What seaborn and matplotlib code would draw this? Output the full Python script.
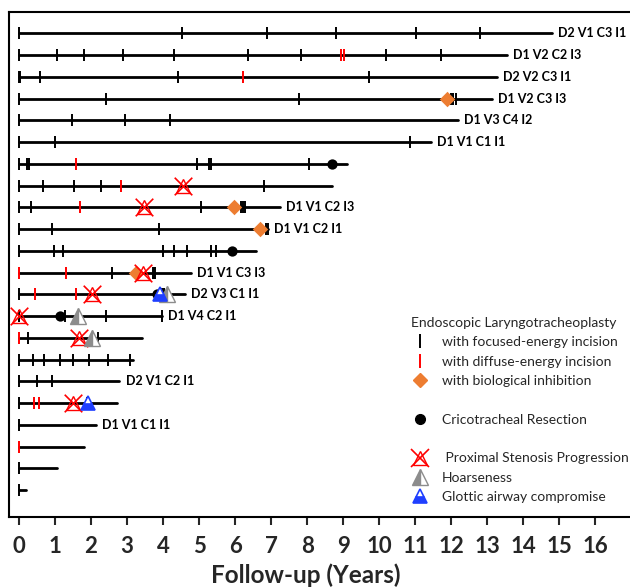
import numpy as np
import pandas as pd
import matplotlib
matplotlib.use("Agg")
import matplotlib.pyplot as plt
from matplotlib.lines import Line2D
import seaborn as sns

# ---------------- data ----------------
rows = list(range(1, 23))
follow_up_end = [14.79, 13.54, 13.26, 13.12, 12.18, 11.44, 9.10, 8.70, 7.25, 6.92, 6.58,
                 4.77, 4.61, 3.96, 3.43, 3.17, 2.79, 2.71, 2.14, 1.81, 1.05, 0.20]
row_labels = ["D2 V1 C3 I1", "D1 V2 C2 I3", "D2 V2 C3 I1", "D1 V2 C3 I3", "D1 V3 C4 I2",
              "D1 V1 C1 I1", "", "", "D1 V1 C2 I3", "D1 V1 C2 I1", "", "D1 V1 C3 I3",
              "D2 V3 C1 I1", "D1 V4 C2 I1", "", "", "D2 V1 C2 I1", "", "D1 V1 C1 I1",
              "", "", ""]
focused_incision = [
    [0, 4.52, 6.89, 8.80, 11.03, 12.81],
    [0, 1.05, 1.81, 2.88, 4.30, 6.36, 7.84, 10.18, 11.72],
    [0, 0.04, 0.58, 4.42, 9.73],
    [0, 2.41, 7.77, 12.00, 12.06, 12.12],
    [0, 1.48, 2.94, 4.18],
    [0, 1.01, 10.85],
    [0, 0.23, 0.28, 4.94, 5.28, 5.32, 8.05],
    [0, 0.68, 1.53, 2.27, 6.81],
    [0, 0.34, 5.06, 6.16, 6.22, 6.27],
    [0, 0.93, 3.90, 6.86, 6.92],
    [0, 0.97, 1.22, 3.99, 4.31, 4.66, 5.33, 5.47],
    [2.58, 3.71, 3.74, 3.77],
    [0, 3.98, 4.02],
    [0, 1.28, 2.42, 3.96],
    [0.26, 2.19],
    [0, 0.40, 0.70, 1.14, 1.51, 1.95, 2.48, 3.08],
    [0, 0.51, 0.93],
    [0, 1.90],
    [0],
    [],
    [0],
    [0],
]
diffuse_incision = [
    [], [8.94, 9.01], [6.23], [], [], [], [1.59], [2.82], [1.70], [], [],
    [0, 1.31], [0.45, 1.58], [], [0], [], [], [0.42, 0.56], [], [0], [], [],
]
biological_inhibition = [
    [], [], [], [11.87], [], [], [], [], [5.98], [6.69], [],
    [3.24], [], [], [], [], [], [], [], [], [], [],
]
cricotracheal_resection = [
    [], [], [], [], [], [], [8.70], [], [], [], [5.92],
    [], [3.84], [1.14], [], [], [], [], [], [], [], [],
]
stenosis_progression = [
    [], [], [], [], [], [], [], [4.55], [3.47], [], [],
    [3.45], [2.04], [0.0], [1.67], [], [], [1.51], [], [], [], [],
]
hoarseness = [
    [], [], [], [], [], [], [], [], [], [], [],
    [], [4.10], [1.65], [2.02], [], [], [], [], [], [], [],
]
glottic_compromise = [
    [], [], [], [], [], [], [], [], [], [], [],
    [], [3.93], [], [], [], [], [1.93], [], [], [], [],
]
x_ticks = list(range(0, 17))


def long_form(events):
    return pd.DataFrame([(t, r) for r, ts in zip(rows, events) for t in ts],
                        columns=["t", "row"])


# ---------------- figure ----------------
sns.set_style("white")
plt.rcParams["font.family"] = ["Lato", "DejaVu Sans"]

W, H = 630, 588
fig = plt.figure(figsize=(W / 100, H / 100), dpi=100)
left_px, right_px, top_px, bottom_px = 9, 640, 12, 517
ax = fig.add_axes([left_px / W, 1 - bottom_px / H,
                   (right_px - left_px) / W, (bottom_px - top_px) / H])

x0_px, px_per_year = 18.9, 36.03
ax.set_xlim((left_px - x0_px) / px_per_year, (right_px - x0_px) / px_per_year)
ax.set_ylim(23.24, 0.02)

# swim lanes
lanes = pd.DataFrame({"row": rows * 2,
                      "t": [0.0] * len(rows) + follow_up_end})
sns.lineplot(data=lanes, x="t", y="row", units="row", estimator=None,
             color="black", lw=2.0, ax=ax, sort=True, orient="y", zorder=2)

tick_s = 8.8 ** 2
foc = long_form(focused_incision)
sns.scatterplot(data=foc, x="t", y="row", marker="|", color="black",
                s=tick_s, linewidth=1.4, ax=ax, zorder=3)
dif = long_form(diffuse_incision)
sns.scatterplot(data=dif, x="t", y="row", marker="|", color="#FF0000",
                s=tick_s, linewidth=1.4, ax=ax, zorder=3)

bio = long_form(biological_inhibition)
sns.scatterplot(data=bio, x="t", y="row", marker="D", color="#ED7D31",
                s=62, linewidth=0, ax=ax, zorder=4)
ctr = long_form(cricotracheal_resection)
sns.scatterplot(data=ctr, x="t", y="row", marker="o", color="black",
                s=55, linewidth=0, ax=ax, zorder=4)

sten = long_form(stenosis_progression)
sns.scatterplot(data=sten, x="t", y="row", marker="x", color="#FF0000",
                s=160, linewidth=1.2, ax=ax, zorder=5)
ax.plot(sten["t"], sten["row"], ls="none", marker="^", ms=10, mfc="none",
        mec="#FF0000", mew=1.0, zorder=5)

hoa = long_form(hoarseness)
ax.plot(hoa["t"], hoa["row"], ls="none", marker="^", ms=11, mec="#8C8C8C",
        mfc="#8C8C8C", fillstyle="left", markerfacecoloralt="white", mew=1.0, zorder=6)
glo = long_form(glottic_compromise)
ax.plot(glo["t"], glo["row"], ls="none", marker="^", ms=10, mec="#1F3FFF",
        mfc="#1F3FFF", fillstyle="bottom", markerfacecoloralt="white", mew=1.2, zorder=6)

# row labels
for r, end, lab in zip(rows, follow_up_end, row_labels):
    if lab:
        extra = max([end] + focused_incision[r - 1])
        ax.text(extra + 0.17, r, lab, ha="left", va="center", fontsize=9,
                fontweight="bold", color="black")

# axes styling
ax.set_yticks([])
ax.set_ylabel("")
ax.set_xticks(x_ticks)
ax.set_xticklabels([str(v) for v in x_ticks], fontsize=16, fontweight="bold")
ax.tick_params(axis="x", direction="out", length=6, width=1.5, pad=8, bottom=True)
for sp in ax.spines.values():
    sp.set_visible(True)
    sp.set_color("black")
    sp.set_linewidth(1.5)
ax.set_xlabel("Follow-up (Years)", fontsize=17.5, fontweight="bold")
ax.xaxis.set_label_coords((306 - left_px) / (right_px - left_px),
                          -(575 - bottom_px) / (bottom_px - top_px))
ax.xaxis.label.set_va("center")
ax.grid(False)

# legend
blank = Line2D([], [], ls="none", marker="")
handles = [
    Line2D([], [], ls="none", marker="|", color="black", ms=10, mew=1.4),
    Line2D([], [], ls="none", marker="|", color="#FF0000", ms=10, mew=1.4),
    Line2D([], [], ls="none", marker="D", color="#ED7D31", ms=7.5),
    blank,
    Line2D([], [], ls="none", marker="o", color="black", ms=7),
    blank,
    (Line2D([], [], ls="none", marker="x", color="#FF0000", ms=12.5, mew=1.2),
     Line2D([], [], ls="none", marker="^", ms=10, mfc="none", mec="#FF0000", mew=1.0)),
    Line2D([], [], ls="none", marker="^", ms=11, mec="#8C8C8C", mfc="#8C8C8C",
           fillstyle="left", markerfacecoloralt="white"),
    Line2D([], [], ls="none", marker="^", ms=10, mec="#1F3FFF", mfc="#1F3FFF",
           fillstyle="bottom", markerfacecoloralt="white", mew=1.2),
]
labels = ["with focused-energy incision", "with diffuse-energy incision",
          "with biological inhibition", "", "Cricotracheal Resection", "",
          " Proximal Stenosis Progression", "Hoarseness", "Glottic airway compromise"]
leg = ax.legend(handles, labels, title="Endoscopic Laryngotracheoplasty",
                loc="upper left", bbox_to_anchor=((404 - left_px) / (right_px - left_px),
                                                  1 - (310 - top_px) / (bottom_px - top_px)),
                frameon=False, fontsize=10, title_fontsize=10, handlelength=1.3,
                handletextpad=0.9, labelspacing=0.53, borderpad=0, alignment="left")

fig.savefig("out.png", dpi=100)
